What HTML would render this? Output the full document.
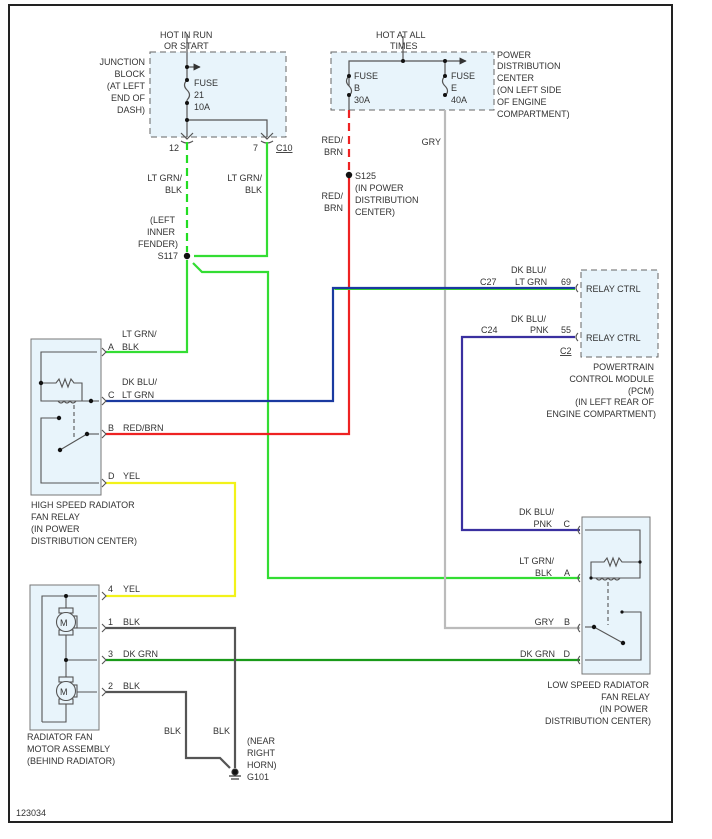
<!DOCTYPE html>
<html><head><meta charset="utf-8"><style>
html,body{margin:0;padding:0;background:#fff}
svg{display:block}
text{font-family:"Liberation Sans",sans-serif;font-size:9px;fill:#333}
</style></head><body>
<svg width="712" height="839" viewBox="0 0 712 839" xmlns="http://www.w3.org/2000/svg">
<rect x="9" y="5" width="663" height="817" fill="#fff" stroke="#222" stroke-width="2"/>
<defs>
<marker id="ar" viewBox="0 0 10 10" refX="9" refY="5" markerWidth="6" markerHeight="6" orient="auto"><path d="M0,0 L10,5 L0,10 z" fill="#333"/></marker>
</defs>

<rect x="150" y="52" width="136" height="85" fill="#e8f4fb" stroke="#666" stroke-dasharray="6,4"/>
<rect x="331" y="52" width="163" height="58" fill="#e8f4fb" stroke="#666" stroke-dasharray="6,4"/>
<rect x="581" y="270" width="77" height="87" fill="#e8f4fb" stroke="#666" stroke-dasharray="6,4"/>
<rect x="31" y="339" width="70" height="156" fill="#e8f4fb" stroke="#777"/>
<rect x="30" y="585" width="69" height="145" fill="#e8f4fb" stroke="#777"/>
<rect x="582" y="517" width="68" height="157" fill="#e8f4fb" stroke="#777"/>

<g stroke="#555" fill="none" stroke-width="1.2">
<line x1="187" y1="34" x2="187" y2="80"/>
<path d="M187,80 q-5,5 0,10 q5,5 0,10"/>
<line x1="187" y1="100" x2="187" y2="137"/>
<line x1="187" y1="67" x2="200" y2="67" marker-end="url(#ar)"/>
<polyline points="187,120 267,120 267,137"/>
<path d="M181,133 l6,6 l6,-6 M261,133 l6,6 l6,-6"/>
<path d="M181,141 q6,4 12,0 M261,141 q6,4 12,0"/>
</g>
<g fill="#111"><circle cx="187" cy="67" r="2"/><circle cx="187" cy="80" r="2"/><circle cx="187" cy="103" r="2"/><circle cx="187" cy="120" r="2"/></g>

<g stroke="#555" fill="none" stroke-width="1.2">
<line x1="403" y1="36" x2="403" y2="61"/>
<polyline points="349,86 349,61 445,61"/>
<line x1="445" y1="61" x2="466" y2="61" marker-end="url(#ar)"/>
<line x1="445" y1="61" x2="445" y2="76"/>
<path d="M349,76 q-5,5 0,10 q5,5 0,10 M445,76 q-5,5 0,10 q5,5 0,10"/>
<line x1="349" y1="96" x2="349" y2="110"/>
</g>
<g fill="#111"><circle cx="403" cy="61" r="2"/><circle cx="445" cy="61" r="2"/><circle cx="349" cy="76" r="2"/><circle cx="349" cy="95" r="2"/><circle cx="445" cy="76" r="2"/><circle cx="445" cy="95" r="2"/></g>

<g fill="none" stroke-width="2.2">
<line x1="187" y1="142" x2="187" y2="252" stroke="#22dd22" stroke-dasharray="8,5"/>
<polyline points="267,142 267,256 194,256" stroke="#33dd33"/>
<polyline points="193,263 202,272 268,272 268,578 580,578" stroke="#33dd33"/>
<polyline points="187,260 187,352 106,352" stroke="#33dd33"/>
<line x1="349" y1="110" x2="349" y2="170" stroke="#ee2222" stroke-dasharray="8,5"/>
<polyline points="349,178 349,434 106,434" stroke="#ee2222"/>
<polyline points="445,110 445,628 580,628" stroke="#bbbbbb"/>
<polyline points="575,288 333,288 333,401 106,401" stroke="#1a3aa0"/>
<polyline points="575,289.5 334.5,289.5" stroke="#33cc33" stroke-width="1"/>
<polyline points="575,337 462,337 462,530 580,530" stroke="#3a30a0"/>
<polyline points="106,483 235,483 235,596 106,596" stroke="#f2f21a"/>
<line x1="106" y1="660" x2="580" y2="660" stroke="#1a9a1a"/>
<polyline points="106,628 235,628 235,768" stroke="#555"/>
<polyline points="106,692 186,692 186,758 220,758 230,768" stroke="#555"/>
</g>
<circle cx="187" cy="256" r="3.2" fill="#111"/>
<circle cx="349" cy="175" r="3.2" fill="#111"/>
<g stroke="#333" stroke-width="1.2"><circle cx="235" cy="772" r="3" fill="#111"/><line x1="229" y1="776" x2="241" y2="776"/><line x1="231" y1="779" x2="239" y2="779"/></g>

<g stroke="#555" fill="none" stroke-width="1.1">
<path d="M102,348 l4,4 l-4,4 M102,397 l4,4 l-4,4 M102,430 l4,4 l-4,4 M102,479 l4,4 l-4,4"/>
<path d="M102,592 l4,4 l-4,4 M102,624 l4,4 l-4,4 M102,656 l4,4 l-4,4 M102,688 l4,4 l-4,4"/>
<path d="M580,526 q-4,4 0,8 M580,574 q-4,4 0,8 M580,624 q-4,4 0,8 M580,656 q-4,4 0,8"/>
<path d="M578,284 q-4,4 0,8 M578,333 q-4,4 0,8"/>
<polyline points="97,352 41,352 41,401 90,401"/>
<path d="M41,383 h15 l3,-4 l3,8 l3,-8 l3,8 l3,-8 l3,4 h8 v18"/>
<path d="M58,401 q3,4 6,0 q3,4 6,0 q3,4 6,0"/>
<line x1="74" y1="405" x2="74" y2="438" stroke-dasharray="4,3"/>
<line x1="60" y1="450" x2="87" y2="434"/><line x1="87" y1="434" x2="99" y2="434"/>
<polyline points="59,418 41,418 41,483 99,483"/>
<line x1="92" y1="401" x2="99" y2="401"/>
<polyline points="97,596 66,596 66,611"/>
<polyline points="42,722 42,596 66,596"/>
<line x1="66" y1="631" x2="66" y2="683"/>
<line x1="66" y1="660" x2="97" y2="660"/>
<line x1="76" y1="628" x2="97" y2="628"/>
<line x1="76" y1="692" x2="97" y2="692"/>
<polyline points="42,722 66,722 66,702"/>
<polyline points="585,530 640,530 640,578 591,578"/>
<path d="M640,562 h-18 l-3,-4 l-3,8 l-3,-8 l-3,8 l-3,-8 l-3,4 h-13 v16"/>
<path d="M596,578 q3,4 6,0 q3,4 6,0 q3,4 6,0 q3,4 6,0"/>
<line x1="608" y1="582" x2="608" y2="625" stroke-dasharray="4,3"/>
<line x1="594" y1="627" x2="623" y2="643"/>
<line x1="585" y1="627" x2="594" y2="627"/>
<polyline points="622,612 641,612 641,660 585,660"/>
</g>
<g fill="#e8f4fb" stroke="#555" stroke-width="1.1">
<rect x="59" y="608" width="14" height="5"/><rect x="59" y="630" width="14" height="5"/><rect x="73" y="616" width="4" height="12"/>
<circle cx="66" cy="622" r="9.5"/>
<rect x="59" y="677" width="14" height="5"/><rect x="59" y="699" width="14" height="5"/><rect x="73" y="685" width="4" height="12"/>
<circle cx="66" cy="691" r="9.5"/>
</g>
<text x="60" y="626" font-size="12">M</text><text x="60" y="695" font-size="12">M</text>
<g fill="#111">
<circle cx="41" cy="383" r="2.2"/><circle cx="91" cy="401" r="2.2"/><circle cx="59" cy="418" r="2.2"/><circle cx="60" cy="450" r="2.2"/><circle cx="87" cy="434" r="2.2"/>
<circle cx="66" cy="596" r="2"/><circle cx="66" cy="660" r="2"/>
<circle cx="640" cy="562" r="1.6"/><circle cx="591" cy="578" r="1.6"/><circle cx="622" cy="612" r="1.6"/><circle cx="594" cy="627" r="2.2"/><circle cx="623" cy="643" r="2.2"/>
</g>

<g>
<text x="160" y="38">HOT IN RUN</text><text x="164" y="49">OR START</text>
<g text-anchor="end"><text x="145" y="65">JUNCTION</text><text x="145" y="77">BLOCK</text><text x="145" y="89">(AT LEFT</text><text x="145" y="101">END OF</text><text x="145" y="113">DASH)</text></g>
<text x="194" y="86">FUSE</text><text x="194" y="98">21</text><text x="194" y="110">10A</text>
<text x="169" y="151">12</text><text x="253" y="151">7</text><text x="276" y="151" text-decoration="underline">C10</text>
<g text-anchor="end"><text x="182" y="181">LT GRN/</text><text x="182" y="193">BLK</text>
<text x="262" y="181">LT GRN/</text><text x="262" y="193">BLK</text>
<text x="175" y="223">(LEFT</text><text x="175" y="235">INNER</text><text x="178" y="247">FENDER)</text><text x="178" y="259">S117</text>
<text x="343" y="143">RED/</text><text x="343" y="155">BRN</text><text x="343" y="199">RED/</text><text x="343" y="211">BRN</text>
<text x="441" y="145">GRY</text></g>
<text x="376" y="38">HOT AT ALL</text><text x="390" y="49">TIMES</text>
<text x="354" y="79">FUSE</text><text x="354" y="91">B</text><text x="354" y="103">30A</text>
<text x="451" y="79">FUSE</text><text x="451" y="91">E</text><text x="451" y="103">40A</text>
<text x="497" y="58">POWER</text><text x="497" y="69">DISTRIBUTION</text><text x="497" y="81">CENTER</text><text x="497" y="93">(ON LEFT SIDE</text><text x="497" y="105">OF ENGINE</text><text x="497" y="117">COMPARTMENT)</text>
<text x="355" y="179">S125</text><text x="355" y="191">(IN POWER</text><text x="355" y="203">DISTRIBUTION</text><text x="355" y="215">CENTER)</text>
<text x="480" y="285">C27</text><text x="511" y="273">DK BLU/</text><text x="515" y="285">LT GRN</text><text x="561" y="285">69</text>
<text x="586" y="292">RELAY CTRL</text>
<text x="481" y="333">C24</text><text x="511" y="322">DK BLU/</text><text x="530" y="333">PNK</text><text x="561" y="333">55</text>
<text x="586" y="341">RELAY CTRL</text>
<text x="560" y="354" text-decoration="underline">C2</text>
<g text-anchor="end"><text x="654" y="370">POWERTRAIN</text><text x="654" y="382">CONTROL MODULE</text><text x="654" y="394">(PCM)</text><text x="654" y="405">(IN LEFT REAR OF</text><text x="656" y="417">ENGINE COMPARTMENT)</text></g>
<text x="122" y="337">LT GRN/</text><text x="108" y="350">A</text><text x="122" y="350">BLK</text>
<text x="122" y="385">DK BLU/</text><text x="108" y="398">C</text><text x="122" y="398">LT GRN</text>
<text x="108" y="431">B</text><text x="123" y="431">RED/BRN</text>
<text x="108" y="479">D</text><text x="123" y="479">YEL</text>
<text x="31" y="508">HIGH SPEED RADIATOR</text><text x="31" y="520">FAN RELAY</text><text x="31" y="532">(IN POWER</text><text x="31" y="544">DISTRIBUTION CENTER)</text>
<text x="108" y="592">4</text><text x="123" y="592">YEL</text>
<text x="108" y="625">1</text><text x="123" y="625">BLK</text>
<text x="108" y="657">3</text><text x="123" y="657">DK GRN</text>
<text x="108" y="689">2</text><text x="123" y="689">BLK</text>
<text x="164" y="734">BLK</text><text x="213" y="734">BLK</text>
<text x="247" y="744">(NEAR</text><text x="247" y="756">RIGHT</text><text x="247" y="768">HORN)</text><text x="247" y="780">G101</text>
<text x="27" y="740">RADIATOR FAN</text><text x="27" y="752">MOTOR ASSEMBLY</text><text x="27" y="764">(BEHIND RADIATOR)</text>
<text x="16" y="816">123034</text>
<g text-anchor="end"><text x="554" y="515">DK BLU/</text><text x="552" y="527">PNK</text><text x="570" y="527">C</text>
<text x="554" y="564">LT GRN/</text><text x="552" y="576">BLK</text><text x="570" y="576">A</text>
<text x="554" y="625">GRY</text><text x="570" y="625">B</text>
<text x="555" y="657">DK GRN</text><text x="570" y="657">D</text>
<text x="649" y="688">LOW SPEED RADIATOR</text><text x="650" y="700">FAN RELAY</text><text x="648" y="712">(IN POWER</text><text x="651" y="724">DISTRIBUTION CENTER)</text></g>
</g>
</svg>
</body></html>
